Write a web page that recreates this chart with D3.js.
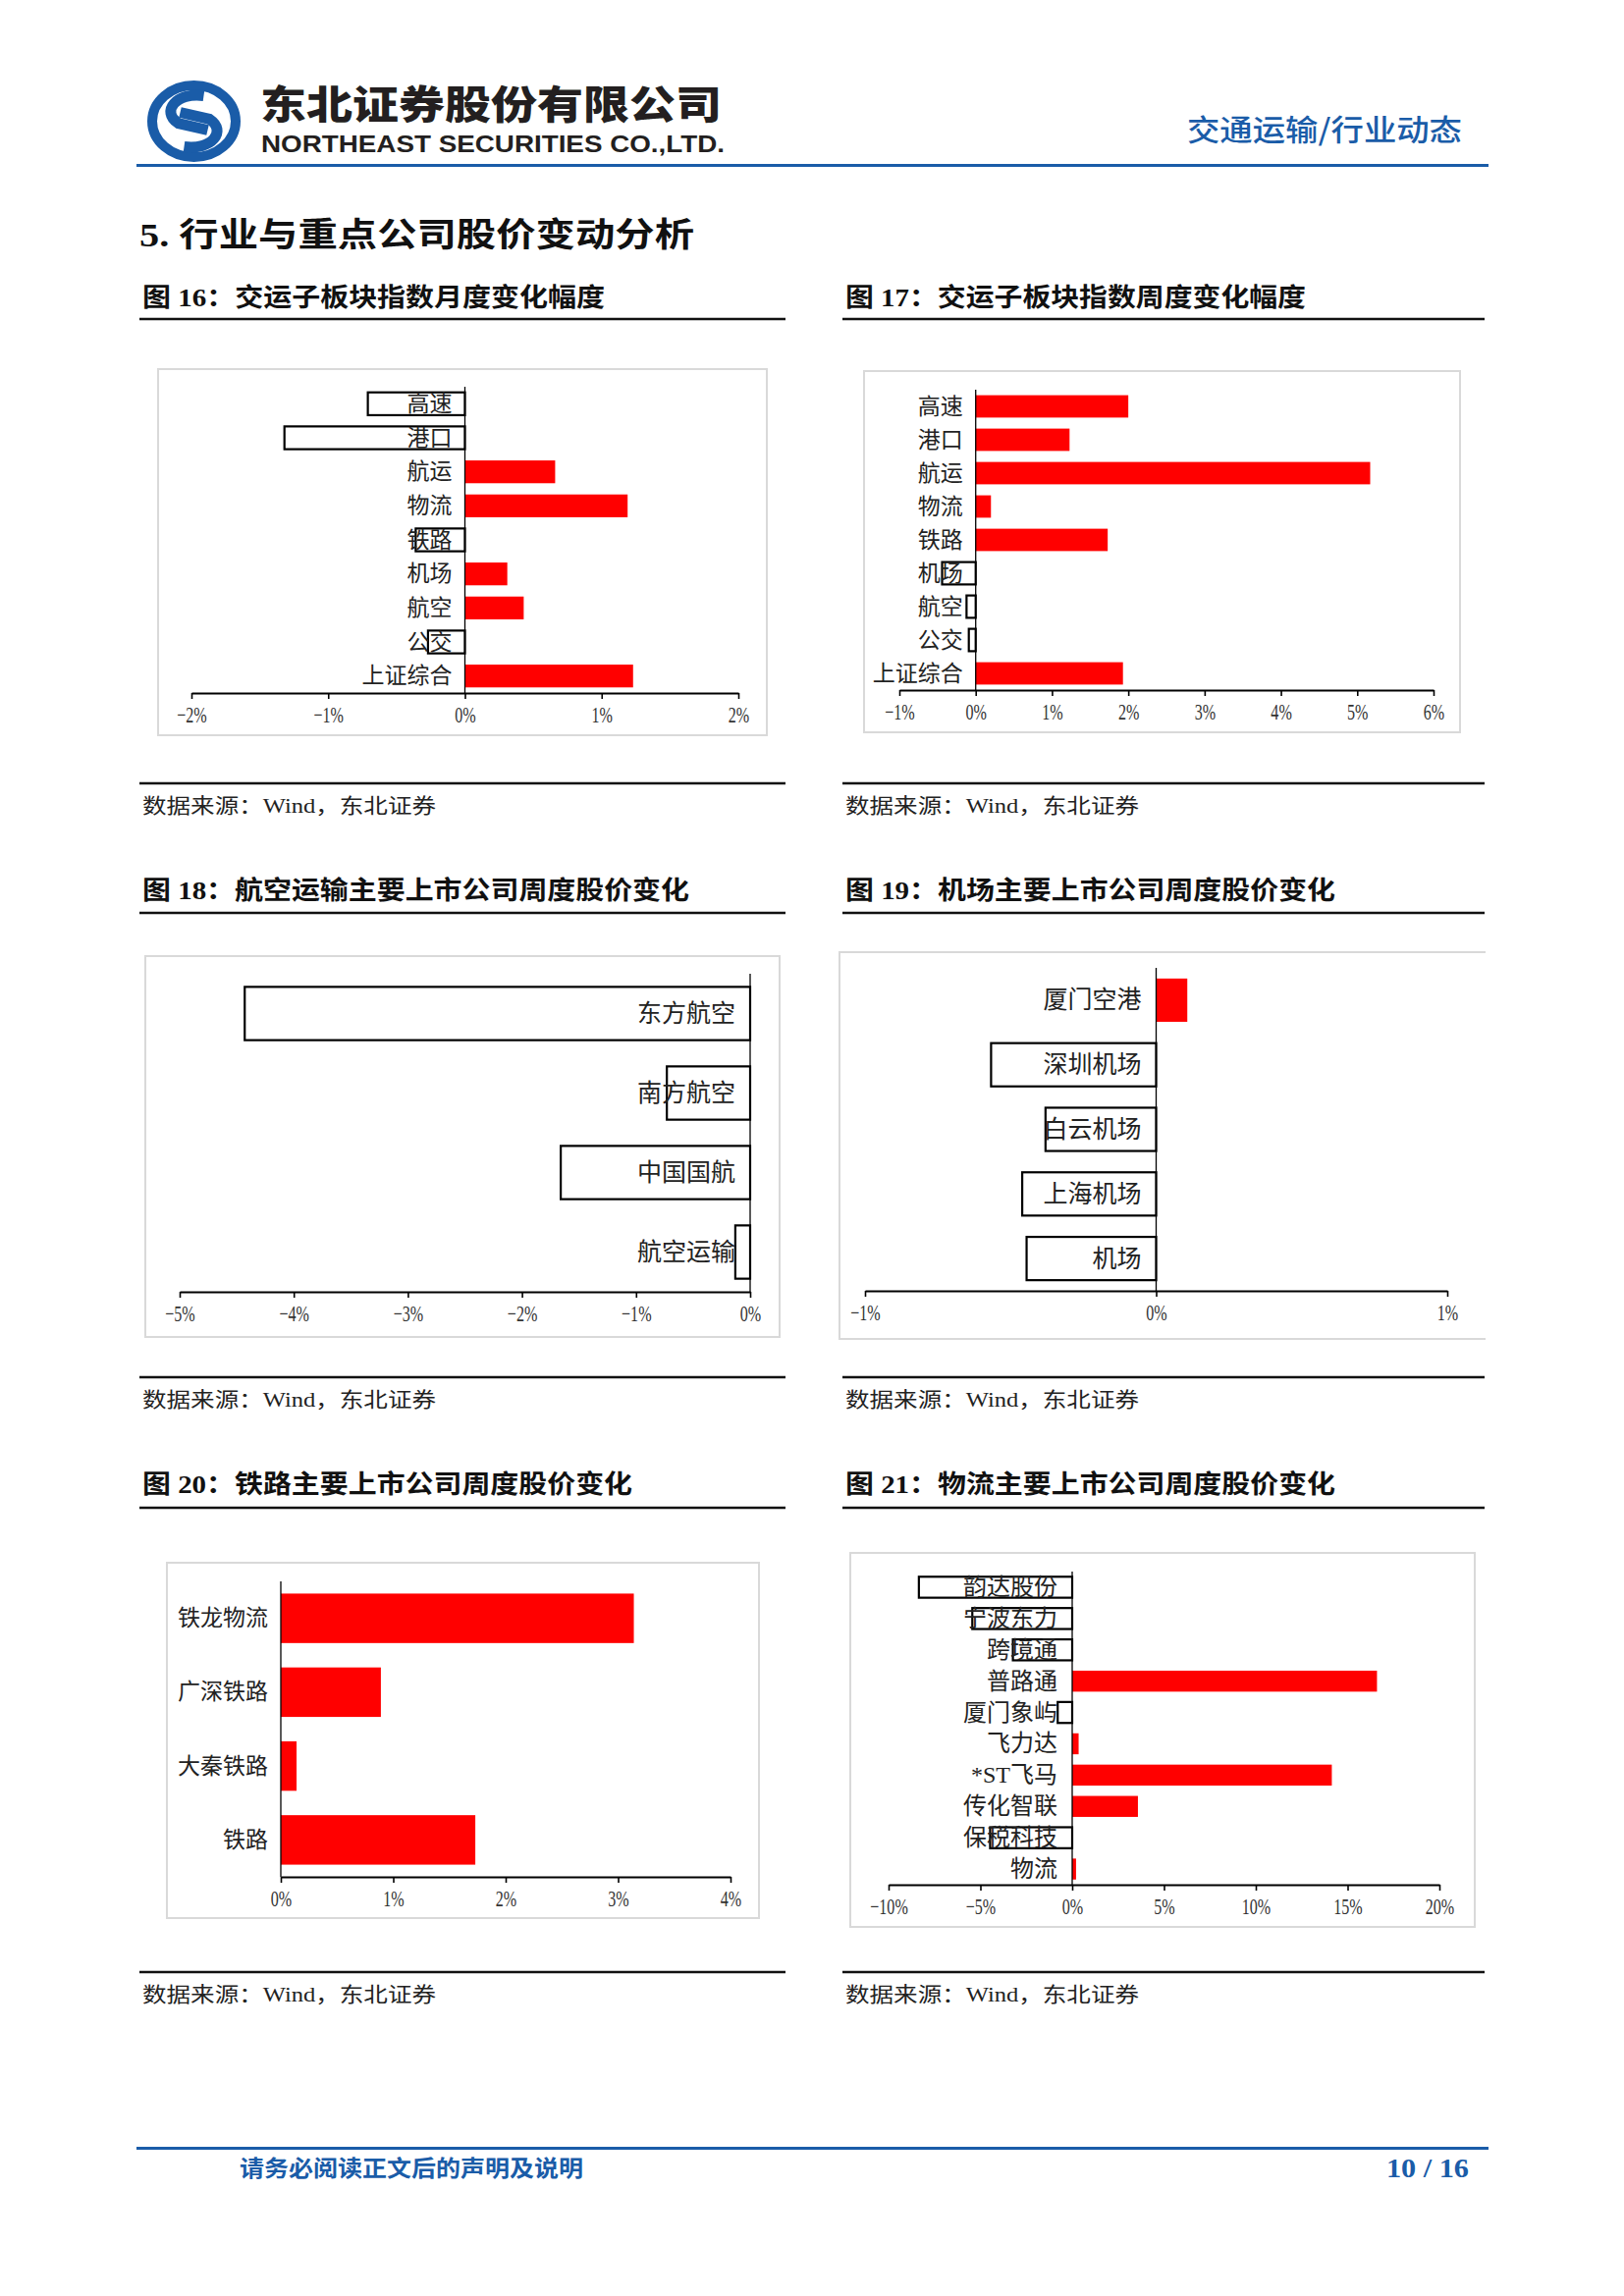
<!DOCTYPE html>
<html>
<head>
<meta charset="utf-8">
<script src="https://cdn.jsdelivr.net/npm/d3@7"></script>
<style>
  html, body { margin: 0; padding: 0; background: #fff; }
  svg { display: block; }
</style>
</head>
<body>
<div id="page"></div>
<script>
// ---------------- DATA ----------------
const fig16Categories = ["高速", "港口", "航运", "物流", "铁路", "机场", "航空", "公交", "上证综合"];
const fig16Values = [-0.71, -1.32, 0.66, 1.19, -0.36, 0.31, 0.43, -0.27, 1.23];
const fig16Ticks = [-2, -1, 0, 1, 2];
const fig16TickLabels = ["−2%", "−1%", "0%", "1%", "2%"];

const fig17Categories = ["高速", "港口", "航运", "物流", "铁路", "机场", "航空", "公交", "上证综合"];
const fig17Values = [2.00, 1.23, 5.17, 0.20, 1.73, -0.44, -0.12, -0.09, 1.93];
const fig17Ticks = [-1, 0, 1, 2, 3, 4, 5, 6];
const fig17TickLabels = ["−1%", "0%", "1%", "2%", "3%", "4%", "5%", "6%"];

const fig18Categories = ["东方航空", "南方航空", "中国国航", "航空运输"];
const fig18Values = [-4.43, -0.73, -1.66, -0.13];
const fig18Ticks = [-5, -4, -3, -2, -1, 0];
const fig18TickLabels = ["−5%", "−4%", "−3%", "−2%", "−1%", "0%"];

const fig19Categories = ["厦门空港", "深圳机场", "白云机场", "上海机场", "机场"];
const fig19Values = [0.107, -0.567, -0.38, -0.46, -0.445];
const fig19Ticks = [-1, 0, 1];
const fig19TickLabels = ["−1%", "0%", "1%"];

const fig20Categories = ["铁龙物流", "广深铁路", "大秦铁路", "铁路"];
const fig20Values = [3.14, 0.89, 0.14, 1.73];
const fig20Ticks = [0, 1, 2, 3, 4];
const fig20TickLabels = ["0%", "1%", "2%", "3%", "4%"];

const fig21Categories = ["韵达股份", "宁波东力", "跨境通", "普路通", "厦门象屿", "飞力达", "*ST飞马", "传化智联", "保税科技", "物流"];
const fig21Values = [-8.35, -5.44, -3.23, 16.6, -0.79, 0.35, 14.14, 3.58, -4.47, 0.21];
const fig21Ticks = [-10, -5, 0, 5, 10, 15, 20];
const fig21TickLabels = ["−10%", "−5%", "0%", "5%", "10%", "15%", "20%"];

const figureTitles = [
  "图 16：交运子板块指数月度变化幅度",
  "图 17：交运子板块指数周度变化幅度",
  "图 18：航空运输主要上市公司周度股价变化",
  "图 19：机场主要上市公司周度股价变化",
  "图 20：铁路主要上市公司周度股价变化",
  "图 21：物流主要上市公司周度股价变化"
];
const sourceText = "数据来源：Wind，东北证券";

// ---------------- PAGE ----------------
const W = 1654, H = 2339;
const BLUE = "#1a5ca8";
const RED = "#ff0000";
const CJK = "'Noto Sans CJK SC', sans-serif";
const SERIF = "'Liberation Serif', 'Noto Sans CJK SC', serif";

const svg = d3.select("#page").append("svg")
  .attr("width", W).attr("height", H)
  .attr("viewBox", `0 0 ${W} ${H}`);
svg.append("rect").attr("width", W).attr("height", H).attr("fill", "#fff");

// ----- header -----
const logo = svg.append("g").attr("transform", "translate(197.5,123.5)");
logo.append("ellipse").attr("rx", 42.5).attr("ry", 36.5)
  .attr("fill", "none").attr("stroke", BLUE).attr("stroke-width", 10);
logo.append("path")
  .attr("d", "M 10,-26 C -18,-30 -34,-10 -16,2 L 14,9")
  .attr("fill", "none").attr("stroke", BLUE).attr("stroke-width", 11);
logo.append("path")
  .attr("d", "M -10,26 C 18,30 34,10 16,-2 L -14,-9")
  .attr("fill", "none").attr("stroke", BLUE).attr("stroke-width", 11);

svg.append("text").attr("x", 265).attr("y", 121)
  .attr("font-family", CJK).attr("font-weight", 900).attr("font-size", 40)
  .attr("textLength", 470).attr("lengthAdjust", "spacingAndGlyphs")
  .attr("fill", "#231f20").text("东北证券股份有限公司");
svg.append("text").attr("x", 266).attr("y", 155)
  .attr("font-family", "'Liberation Sans Narrow','Liberation Sans',sans-serif")
  .attr("font-weight", 700).attr("font-size", 23)
  .attr("textLength", 472).attr("lengthAdjust", "spacingAndGlyphs")
  .attr("fill", "#231f20").text("NORTHEAST SECURITIES CO.,LTD.");
svg.append("text").attr("x", 1489).attr("y", 143).attr("text-anchor", "end")
  .attr("font-family", CJK).attr("font-weight", 500).attr("font-size", 30)
  .attr("textLength", 280).attr("lengthAdjust", "spacingAndGlyphs")
  .attr("fill", BLUE).text("交通运输/行业动态");
svg.append("line").attr("x1", 139).attr("x2", 1516).attr("y1", 168.5).attr("y2", 168.5)
  .attr("stroke", BLUE).attr("stroke-width", 3);

// section title
svg.append("text").attr("x", 142).attr("y", 251)
  .attr("font-family", SERIF).attr("font-weight", 700).attr("font-size", 34)
  .attr("textLength", 565).attr("lengthAdjust", "spacingAndGlyphs")
  .attr("fill", "#111").text("5.  行业与重点公司股价变动分析");

// ----- figure titles, underlines and source lines -----
const colX = [[142, 800], [858, 1512]];
const rowTitleY = [312, 916, 1521];
const rowUnderY = [325, 930, 1536];
const rowSrcLineY = [798, 1403, 2009];
const titleWidths = [471, 469, 557, 499, 499, 499];

figureTitles.forEach((t, i) => {
  const r = Math.floor(i / 2), c = i % 2;
  const [xa, xb] = colX[c];
  svg.append("text").attr("x", xa + 3).attr("y", rowTitleY[r])
    .attr("font-family", SERIF).attr("font-weight", 700).attr("font-size", 26)
    .attr("textLength", titleWidths[i]).attr("lengthAdjust", "spacingAndGlyphs")
    .attr("fill", "#111").text(t);
  svg.append("line").attr("x1", xa).attr("x2", xb).attr("y1", rowUnderY[r]).attr("y2", rowUnderY[r])
    .attr("stroke", "#111").attr("stroke-width", 2.5);
  svg.append("line").attr("x1", xa).attr("x2", xb).attr("y1", rowSrcLineY[r]).attr("y2", rowSrcLineY[r])
    .attr("stroke", "#111").attr("stroke-width", 2.5);
  svg.append("text").attr("x", xa + 3).attr("y", rowSrcLineY[r] + 30)
    .attr("font-family", SERIF).attr("font-size", 21)
    .attr("textLength", 299).attr("lengthAdjust", "spacingAndGlyphs")
    .attr("fill", "#222").text(sourceText);
});

// ----- footer -----
svg.append("line").attr("x1", 139).attr("x2", 1516).attr("y1", 2188.5).attr("y2", 2188.5)
  .attr("stroke", BLUE).attr("stroke-width", 3);
svg.append("text").attr("x", 244).attr("y", 2217)
  .attr("font-family", CJK).attr("font-weight", 700).attr("font-size", 23)
  .attr("textLength", 350).attr("lengthAdjust", "spacingAndGlyphs")
  .attr("fill", BLUE).text("请务必阅读正文后的声明及说明");
svg.append("text").attr("x", 1496).attr("y", 2218).attr("text-anchor", "end")
  .attr("font-family", SERIF).attr("font-weight", 700).attr("font-size", 27)
  .attr("textLength", 84).attr("lengthAdjust", "spacingAndGlyphs")
  .attr("fill", BLUE).text("10 / 16");

// ----- charts -----
function barChart(cfg) {
  const g = svg.append("g");
  const [fx0, fy0, fx1, fy1] = cfg.frame;
  // frame
  if (cfg.openRight) {
    g.append("path").attr("d", `M${fx1},${fy0} H${fx0} V${fy1} H${fx1}`)
      .attr("fill", "none").attr("stroke", "#d9d9d9").attr("stroke-width", 2);
  } else {
    g.append("rect").attr("x", fx0).attr("y", fy0).attr("width", fx1 - fx0).attr("height", fy1 - fy0)
      .attr("fill", "#fff").attr("stroke", "#d9d9d9").attr("stroke-width", 2);
  }
  const x = d3.scaleLinear().domain(cfg.domain).range(cfg.range);
  const y = d3.scaleBand().domain(cfg.categories).range([cfg.top, cfg.axisY])
    .paddingInner(0.33).paddingOuter(0.165);
  const data = cfg.categories.map((c, i) => ({ c, v: cfg.values[i] }));

  g.selectAll("rect.bar").data(data).join("rect").attr("class", "bar")
    .attr("x", d => x(Math.min(0, d.v)))
    .attr("y", d => y(d.c))
    .attr("width", d => Math.abs(x(d.v) - x(0)))
    .attr("height", y.bandwidth())
    .attr("fill", d => d.v >= 0 ? RED : "#fff")
    .attr("stroke", d => d.v >= 0 ? "none" : "#000")
    .attr("stroke-width", 2.2);

  // zero / category axis line
  g.append("line").attr("x1", x(0)).attr("x2", x(0))
    .attr("y1", cfg.top).attr("y2", cfg.axisY)
    .attr("stroke", "#000").attr("stroke-width", 1.3);

  // category labels
  g.selectAll("text.cat").data(data).join("text").attr("class", "cat")
    .attr("x", x(0) - cfg.labelOffset)
    .attr("y", d => y(d.c) + y.bandwidth() / 2)
    .attr("text-anchor", "end").attr("dominant-baseline", "central")
    .attr("font-family", SERIF).attr("font-size", cfg.fontSize)
    .attr("fill", "#222").text(d => d.c);

  // value axis
  const ax = g.append("g").attr("transform", `translate(0,${cfg.axisY})`)
    .call(d3.axisBottom(x).tickValues(cfg.ticks)
      .tickFormat((d, i) => cfg.tickLabels[i])
      .tickSizeInner(6).tickSizeOuter(0).tickPadding(8));
  ax.select(".domain").attr("stroke", "#000").attr("stroke-width", 2.2);
  ax.selectAll(".tick line").attr("stroke", "#000").attr("stroke-width", 1.6);
  ax.selectAll(".tick text")
    .attr("font-family", "'Liberation Serif', serif").attr("font-size", 23)
    .attr("fill", "#333")
    .attr("transform", "scale(0.7,1)");
}

barChart({ frame: [161, 376, 781, 749], range: [195, 752], domain: [-2, 2], top: 394, axisY: 706,
  labelOffset: 13, fontSize: 23, categories: fig16Categories, values: fig16Values,
  ticks: fig16Ticks, tickLabels: fig16TickLabels });
barChart({ frame: [880, 378, 1487, 746], range: [916, 1460], domain: [-1, 6], top: 397, axisY: 703,
  labelOffset: 13, fontSize: 23, categories: fig17Categories, values: fig17Values,
  ticks: fig17Ticks, tickLabels: fig17TickLabels });
barChart({ frame: [148, 974, 794, 1362], range: [183, 764], domain: [-5, 0], top: 992, axisY: 1316,
  labelOffset: 15, fontSize: 25, categories: fig18Categories, values: fig18Values,
  ticks: fig18Ticks, tickLabels: fig18TickLabels });
barChart({ frame: [855, 970, 1513, 1364], range: [881, 1474], domain: [-1, 1], top: 986, axisY: 1315,
  labelOffset: 15, fontSize: 25, openRight: true, categories: fig19Categories, values: fig19Values,
  ticks: fig19Ticks, tickLabels: fig19TickLabels });
barChart({ frame: [170, 1592, 773, 1954], range: [286, 744], domain: [0, 4], top: 1611, axisY: 1912,
  labelOffset: 13, fontSize: 23, categories: fig20Categories, values: fig20Values,
  ticks: fig20Ticks, tickLabels: fig20TickLabels });
barChart({ frame: [866, 1582, 1502, 1963], range: [905, 1466], domain: [-10, 20], top: 1601, axisY: 1920,
  labelOffset: 15, fontSize: 24, categories: fig21Categories, values: fig21Values,
  ticks: fig21Ticks, tickLabels: fig21TickLabels });
</script>
</body>
</html>
